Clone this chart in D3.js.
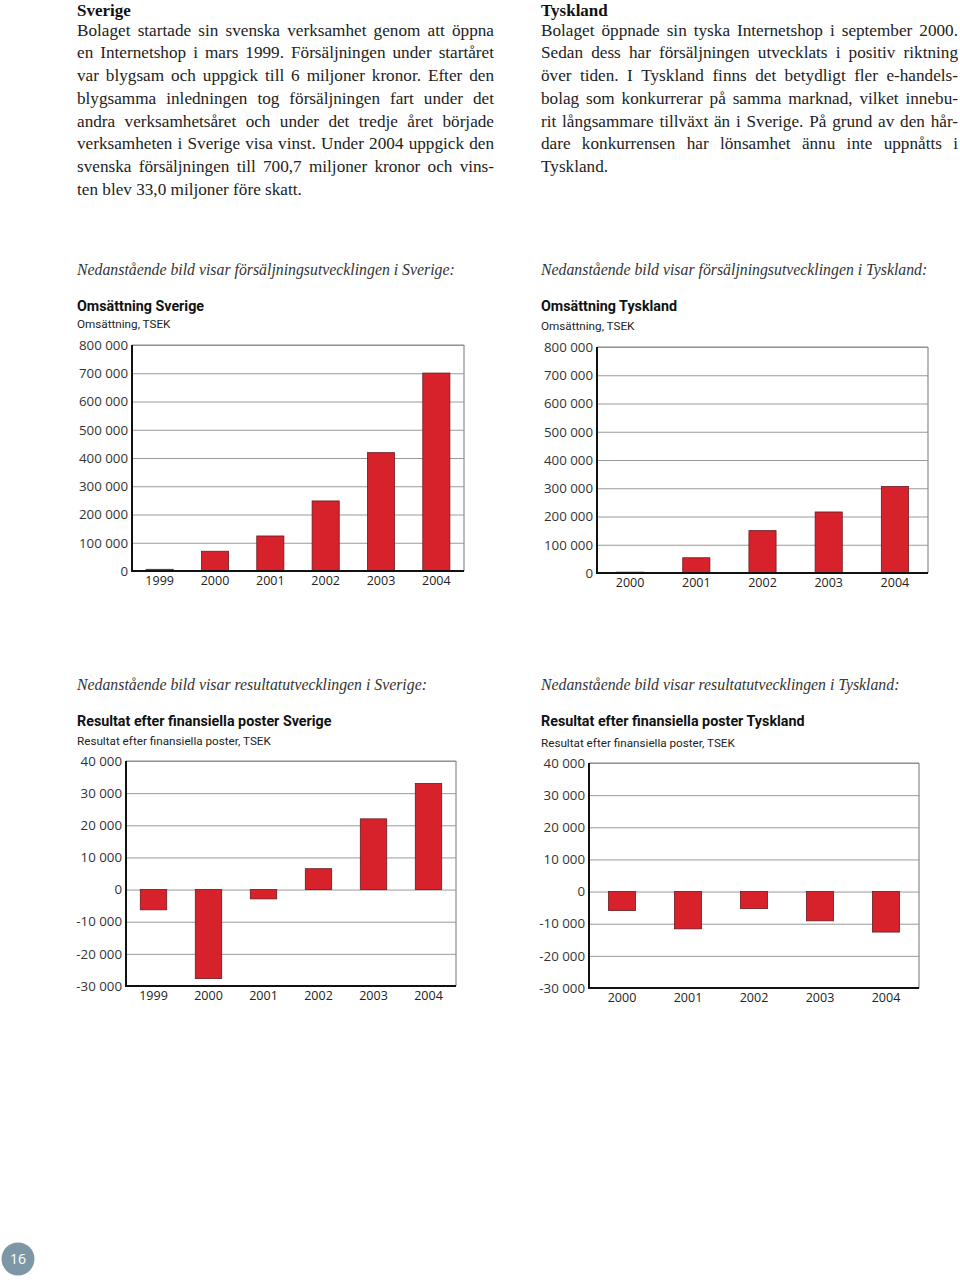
<!DOCTYPE html>
<html><head><meta charset="utf-8">
<script src="https://cdn.jsdelivr.net/npm/d3@7/dist/d3.min.js"></script>
<style>
html,body{margin:0;padding:0;background:#fff;}
svg{display:block;}
</style></head>
<body>
<svg id="page" width="960" height="1283"></svg>
<script>
// ---------- DATA ----------
const yearsSE = ["1999","2000","2001","2002","2003","2004"];
const yearsDE = ["2000","2001","2002","2003","2004"];
const salesSE = [6000, 70000, 124000, 248000, 419000, 700700];
const salesDE = [3000, 54000, 150000, 216000, 306000];
const resultSE = [-6300, -27700, -2900, 6500, 22000, 33000];
const resultDE = [-5900, -11600, -5300, -9100, -12600];
const salesTicks = [0,100000,200000,300000,400000,500000,600000,700000,800000];
const resultTicks = [-30000,-20000,-10000,0,10000,20000,30000,40000];

const leftHead = "Sverige";
const leftLines = [
 "Bolaget startade sin svenska verksamhet genom att öppna",
 "en Internetshop i mars 1999. Försäljningen under startåret",
 "var blygsam och uppgick till 6 miljoner kronor. Efter den",
 "blygsamma inledningen tog försäljningen fart under det",
 "andra verksamhetsåret och under det tredje året började",
 "verksamheten i Sverige visa vinst. Under 2004 uppgick den",
 "svenska försäljningen till 700,7 miljoner kronor och vins-",
 "ten blev 33,0 miljoner före skatt."
];
const rightHead = "Tyskland";
const rightLines = [
 "Bolaget öppnade sin tyska Internetshop i september 2000.",
 "Sedan dess har försäljningen utvecklats i positiv riktning",
 "över tiden. I Tyskland finns det betydligt fler e-handels-",
 "bolag som konkurrerar på samma marknad, vilket innebu-",
 "rit långsammare tillväxt än i Sverige. På grund av den hår-",
 "dare konkurrensen har lönsamhet ännu inte uppnåtts i",
 "Tyskland."
];
const captions = [
 "Nedanstående bild visar försäljningsutvecklingen i Sverige:",
 "Nedanstående bild visar försäljningsutvecklingen i Tyskland:",
 "Nedanstående bild visar resultatutvecklingen i Sverige:",
 "Nedanstående bild visar resultatutvecklingen i Tyskland:"
];
const titles = ["Omsättning Sverige","Omsättning Tyskland","Resultat efter finansiella poster Sverige","Resultat efter finansiella poster Tyskland"];
const subtitles = ["Omsättning, TSEK","Omsättning, TSEK","Resultat efter finansiella poster, TSEK","Resultat efter finansiella poster, TSEK"];
const pageNumber = "16";

// ---------- DRAW ----------
const svg = d3.select("#page");
const serif = "'Liberation Serif','Times New Roman',serif";
const sans = "'Open Sans','Noto Sans',sans-serif";
const sansB = "Roboto,'Open Sans',sans-serif";

function justifiedBlock(x, width, head, lines, firstBase, step){
  svg.append("text").attr("x", x).attr("y", 16)
    .attr("font-family", serif).attr("font-weight","bold").attr("font-size", 17)
    .attr("fill","#111").text(head);
  lines.forEach((ln, i) => {
    const y = firstBase + i*step;
    const last = i === lines.length-1;
    if (last) {
      svg.append("text").attr("x", x).attr("y", y).attr("font-family", serif)
        .attr("font-size", 17.2).attr("fill","#222").text(ln);
      return;
    }
    const words = ln.split(" ");
    const nodes = words.map(w => svg.append("text").attr("y", y).attr("font-family", serif)
        .attr("font-size", 17.2).attr("fill","#222").text(w));
    const widths = nodes.map(n => n.node().getComputedTextLength());
    const total = d3.sum(widths);
    const gap = (width - total) / (words.length - 1);
    let cx = x;
    nodes.forEach((n, k) => { n.attr("x", cx); cx += widths[k] + gap; });
  });
}
justifiedBlock(77, 417, leftHead, leftLines, 35.5, 22.75);
justifiedBlock(541, 417, rightHead, rightLines, 35.5, 22.75);

function chart(cfg){
  const g = svg.append("g");
  g.append("text").attr("x", cfg.tx).attr("y", cfg.capY).attr("font-family", serif)
    .attr("font-style","italic").attr("font-size", 15.8).attr("fill","#333").text(cfg.caption);
  g.append("text").attr("x", cfg.tx).attr("y", cfg.titleY).attr("font-family", sansB)
    .attr("font-weight","bold").attr("font-size", 14.3).attr("fill","#111").text(cfg.title);
  g.append("text").attr("x", cfg.tx).attr("y", cfg.subY).attr("font-family", sansB)
    .attr("font-size", 11.7).attr("fill","#222").text(cfg.subtitle);

  const x = d3.scaleBand().domain(cfg.cats).range([cfg.x0, cfg.x1])
    .paddingInner(cfg.pad).paddingOuter(cfg.pad/2);
  const y = d3.scaleLinear().domain(cfg.domain).range([cfg.yBot, cfg.yTop]);
  const fmt = v => (v < 0 ? "-" : "") + d3.format(",")(Math.abs(v)).replace(/,/g, " ");

  // gridlines
  g.append("g").attr("transform", `translate(${cfg.x0},0)`)
    .call(d3.axisLeft(y).tickValues(cfg.ticks).tickSize(-(cfg.x1-cfg.x0)).tickFormat(""))
    .call(a => a.select(".domain").remove())
    .call(a => a.selectAll("line").attr("stroke","#9a9a9a").attr("stroke-width",1));
  // tick labels
  g.append("g").attr("transform", `translate(${cfg.x0 - 4},0)`)
    .call(d3.axisLeft(y).tickValues(cfg.ticks).tickSize(0).tickPadding(0).tickFormat(fmt))
    .call(a => a.select(".domain").remove())
    .call(a => a.selectAll("text").attr("font-family", sans).attr("font-size", 13.3).attr("fill","#333"));
  // border top/right
  g.append("line").attr("x1", cfg.x0).attr("x2", cfg.x1).attr("y1", cfg.yTop).attr("y2", cfg.yTop)
    .attr("stroke","#8a8a8a").attr("stroke-width",1.2);
  g.append("line").attr("x1", cfg.x1).attr("x2", cfg.x1).attr("y1", cfg.yTop).attr("y2", cfg.yBot)
    .attr("stroke","#8a8a8a").attr("stroke-width",1.2);
  // bars
  g.append("g").selectAll("rect").data(cfg.values).join("rect")
    .attr("x", (d,i) => x(cfg.cats[i]))
    .attr("width", x.bandwidth())
    .attr("y", d => y(Math.max(0,d)))
    .attr("height", d => Math.abs(y(d) - y(0)))
    .attr("fill","#d8222b").attr("stroke","#6a1a20").attr("stroke-width",0.8);
  // axes black
  g.append("line").attr("x1", cfg.x0).attr("x2", cfg.x0).attr("y1", cfg.yTop).attr("y2", cfg.yBot+1)
    .attr("stroke","#111").attr("stroke-width",2);
  g.append("line").attr("x1", cfg.x0).attr("x2", cfg.x1).attr("y1", cfg.yBot).attr("y2", cfg.yBot)
    .attr("stroke","#111").attr("stroke-width",2);
  // category labels
  g.append("g").attr("transform", `translate(0,${cfg.yBot})`)
    .call(d3.axisBottom(x).tickSize(0).tickPadding(cfg.catPad))
    .call(a => a.select(".domain").remove())
    .call(a => a.selectAll("text").attr("font-family", sans).attr("font-size", 12.5).attr("fill","#222"));
}

chart({caption: captions[0], title: titles[0], subtitle: subtitles[0], tx: 77, capY: 275, titleY: 311, subY: 328,
  cats: yearsSE, values: salesSE, domain: [0,800000], ticks: salesTicks,
  x0: 132, x1: 464, yTop: 345, yBot: 571, pad: 0.51, catPad: 5});
chart({caption: captions[1], title: titles[1], subtitle: subtitles[1], tx: 541, capY: 275, titleY: 311, subY: 330,
  cats: yearsDE, values: salesDE, domain: [0,800000], ticks: salesTicks,
  x0: 597, x1: 928, yTop: 347, yBot: 573, pad: 0.59, catPad: 5});
chart({caption: captions[2], title: titles[2], subtitle: subtitles[2], tx: 77, capY: 690, titleY: 726, subY: 745,
  cats: yearsSE, values: resultSE, domain: [-30000,40000], ticks: resultTicks,
  x0: 126, x1: 456, yTop: 761, yBot: 986, pad: 0.52, catPad: 5});
chart({caption: captions[3], title: titles[3], subtitle: subtitles[3], tx: 541, capY: 690, titleY: 726, subY: 747,
  cats: yearsDE, values: resultDE, domain: [-30000,40000], ticks: resultTicks,
  x0: 589, x1: 919, yTop: 763, yBot: 988, pad: 0.59, catPad: 5});

// page number
svg.append("circle").attr("cx", 18).attr("cy", 1259).attr("r", 16.5).attr("fill","#7e97a6");
svg.append("text").attr("x", 18).attr("y", 1264).attr("text-anchor","middle")
  .attr("font-family", sans).attr("font-size", 14).attr("fill","#fff").text(pageNumber);
</script>
</body></html>
